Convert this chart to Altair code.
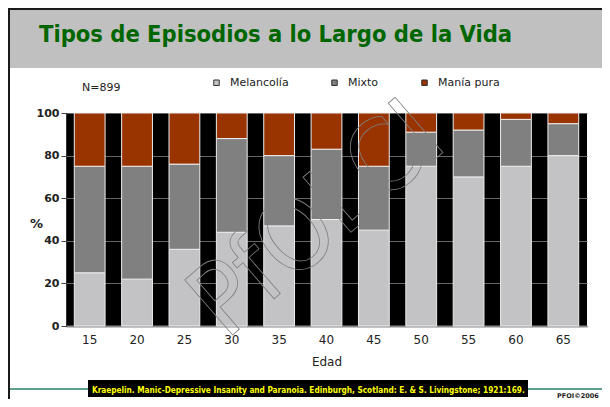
import altair as alt
import pandas as pd

# ---- data ----
ages = [15, 20, 25, 30, 35, 40, 45, 50, 55, 60, 65]
melancolia = [25, 22, 36, 44, 47, 50, 45, 75, 70, 75, 80]
mixto = [50, 53, 40, 44, 33, 33, 30, 16, 22, 22, 15]
mania_pura = [25, 25, 24, 12, 20, 17, 25, 9, 8, 3, 5]
series_names = ["Melancolía", "Mixto", "Manía pura"]
series_colors = ["#C3C2C5", "#808080", "#993300"]

title_text = "Tipos de Episodios a lo Largo de la Vida"
n_text = "N=899"
cite_text = "Kraepelin. Manic-Depressive Insanity and Paranoia. Edinburgh, Scotland: E. & S. Livingstone; 1921:169."
copy_text = "PFOI©2006"
watermark_text = "PfOLCI"

rows = []
for i, a in enumerate(ages):
    for k, (name, vals) in enumerate(zip(series_names, [melancolia, mixto, mania_pura])):
        rows.append({"Edad": a, "Serie": name, "Valor": vals[i], "orden": k})
df = pd.DataFrame(rows)

W, H = 521, 213
PL, PT = 58, 105
TOTW, TOTH = 594, 391

one = alt.Data(values=[{"a": 1}])

def rect(x1, x2, y1, y2, color):
    return alt.Chart(one).mark_rect(color=color).encode(
        x=alt.value(x1), x2=alt.value(x2), y=alt.value(y1), y2=alt.value(y2))

def label(txt, x, y, **kw):
    return alt.Chart(one).mark_text(text=txt, align="left", baseline="alphabetic", **kw).encode(
        x=alt.value(x), y=alt.value(y))

header = rect(-PL, TOTW - PL, -PT, -PT + 60, "#C0C0C0")
top_border = rect(-PL, TOTW - PL, -PT, -PT + 2, "#1a1a1a")
left_border = rect(-PL, -PL + 2, -PT, TOTH - PT, "#1a1a1a")
teal = rect(-PL + 2, TOTW - PL, 275, 277, "#5E9F86")
cite_box = rect(22, 462, 267, 284, "#000000")

title = label(title_text, -27, -71, color="#006600", font="DejaVu Sans Condensed",
              fontWeight="bold", fontSize=23.5)
cite = label(cite_text, 26, 279.5, color="#FFFF00", font="DejaVu Sans Condensed",
             fontWeight="bold", fontSize=8.2)
ntext = label(n_text, 16, -22, color="#222222", font="DejaVu Sans", fontSize=11)
copy = label(copy_text, 491, 285, color="#222222", font="DejaVu Sans", fontWeight="bold", fontSize=6.5)

watermark = alt.Chart(one).mark_text(
    text=watermark_text, font="DejaVu Sans Condensed", fontSize=100,
    fillOpacity=0, stroke="#808080", strokeWidth=0.8, angle=319,
    align="center", baseline="middle"
).encode(x=alt.value(252), y=alt.value(108))

bars = alt.Chart(df).mark_bar(stroke="#eeeeee", strokeWidth=1).encode(
    x=alt.X("Edad:O", sort=ages, title="Edad",
            scale=alt.Scale(paddingInner=0.35, paddingOuter=0.175),
            axis=alt.Axis(labelAngle=0, ticks=False, labelPadding=8,
                          labelFont="DejaVu Sans", labelFontSize=12, labelColor="#222222",
                          domainColor="#888888", domainWidth=2,
                          titleFont="DejaVu Sans", titleFontSize=12,
                          titleFontWeight="normal", titleColor="#222222", titlePadding=11)),
    y=alt.Y("Valor:Q", stack="zero", title="%",
            scale=alt.Scale(domain=[0, 100]),
            axis=alt.Axis(values=[0, 20, 40, 60, 80, 100], labelFont="DejaVu Sans",
                          labelFontWeight="bold", labelFontSize=11, labelColor="#222222",
                          tickSize=5, tickColor="#444444", labelPadding=2,
                          domainColor="#333333", gridColor="#666666", gridWidth=1,
                          titleAngle=0, titleX=-30, titleY=110, titleAlign="center",
                          titleBaseline="middle", titleFont="DejaVu Sans",
                          titleFontSize=13, titleFontWeight="bold", titleColor="#222222")),
    color=alt.Color("Serie:N",
                    scale=alt.Scale(domain=series_names, range=series_colors),
                    legend=alt.Legend(orient="none", legendX=145, legendY=-36,
                                      direction="horizontal", title=None,
                                      symbolType="square", symbolSize=30,
                                      symbolStrokeColor="#333333", symbolStrokeWidth=1,
                                      labelFont="DejaVu Sans", labelFontSize=11,
                                      labelColor="#222222", labelOffset=8,
                                      columnPadding=40, padding=0)),
    order=alt.Order("orden:Q"),
)

chart = alt.layer(
    header, top_border, left_border, teal, cite_box, cite, title, ntext, copy, bars, watermark
).properties(
    width=W, height=H,
    autosize=alt.AutoSizeParams(type="none"),
    padding={"left": PL, "top": PT, "right": TOTW - PL - W, "bottom": TOTH - PT - H},
    background="white",
).configure_view(fill="black", strokeWidth=0)

chart.save("out.html", embed_options={"renderer": "svg", "actions": False})
